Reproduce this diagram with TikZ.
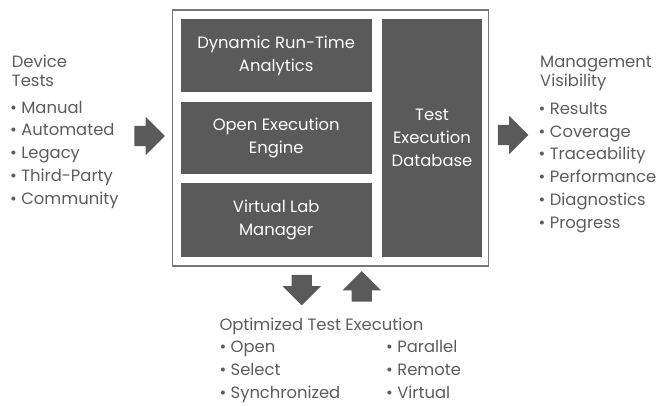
\documentclass[tikz,border=0pt]{standalone}
\usepackage{fontspec}
\setmainfont{Poppins}
\usetikzlibrary{shapes.arrows}

\definecolor{boxgray}{HTML}{5A5A5A}
\definecolor{textgray}{HTML}{5C5C5C}
\definecolor{framegray}{HTML}{777777}

\tikzset{
    block/.style={fill=boxgray, text=white, align=center, inner sep=0pt},
    listtext/.style={text=textgray, align=left, inner sep=0pt, anchor=base west},
    fatarrow/.style={single arrow, fill=boxgray, inner sep=10pt,
        minimum height=27pt, single arrow head extend=9pt}
}
\newcommand{\bodyfont}{\fontsize{16.4}{22.7}\selectfont}
\newcommand{\headfont}{\fontsize{16.4}{19}\selectfont}

\begin{document}
\begin{tikzpicture}[x=1pt, y=-1pt, font=\bodyfont]
    \useasboundingbox (0,0) rectangle (660,405);

    % frame with the four blocks
    \node[draw=framegray, line width=1.3pt, inner sep=0pt,
        minimum width=316pt, minimum height=256pt] (frame) at (330.8,138) {};
    \node[block, minimum width=191pt, minimum height=73pt] (analytics) at (276.2,55.8)
        {Dynamic Run-Time\\Analytics};
    \node[block, minimum width=191pt, minimum height=72.6pt] (engine) at (276.2,138)
        {Open Execution\\Engine};
    \node[block, minimum width=191pt, minimum height=73.4pt] (lab) at (276.2,220)
        {Virtual Lab\\Manager};
    \node[block, minimum width=100.6pt, minimum height=237.4pt] (database) at (432,138)
        {Test\\Execution\\Database};

    % left (anchored at the baseline of the last line)
    \node[listtext, font=\headfont] (devhead) at (11.7,86.3) {Device\\Tests};
    \node[listtext] (devlist) at (10,204)
        {\textbullet\ Manual\\\textbullet\ Automated\\\textbullet\ Legacy\\\textbullet\ Third-Party\\\textbullet\ Community};
    \node[fatarrow] (inarrow) at (144.5,136) {};

    % right
    \node[fatarrow] (outarrow) at (508,135) {};
    \node[listtext, font=\headfont] (mgmthead) at (540,86.7) {Management\\Visibility};
    \node[listtext] (mgmtlist) at (538.5,228)
        {\textbullet\ Results\\\textbullet\ Coverage\\\textbullet\ Traceability\\\textbullet\ Performance\\\textbullet\ Diagnostics\\\textbullet\ Progress};

    % bottom
    \node[fatarrow, shape border rotate=270] (downarrow) at (301.7,285) {};
    \node[fatarrow, shape border rotate=90] (uparrow) at (361.7,291.5) {};
    \node[listtext] (opthead) at (219.3,330) {Optimized Test Execution};
    \node[listtext] (optleft) at (219.3,398)
        {\textbullet\ Open\\\textbullet\ Select\\\textbullet\ Synchronized};
    \node[listtext] (optright) at (386,398)
        {\textbullet\ Parallel\\\textbullet\ Remote\\\textbullet\ Virtual};

\end{tikzpicture}
\end{document}
